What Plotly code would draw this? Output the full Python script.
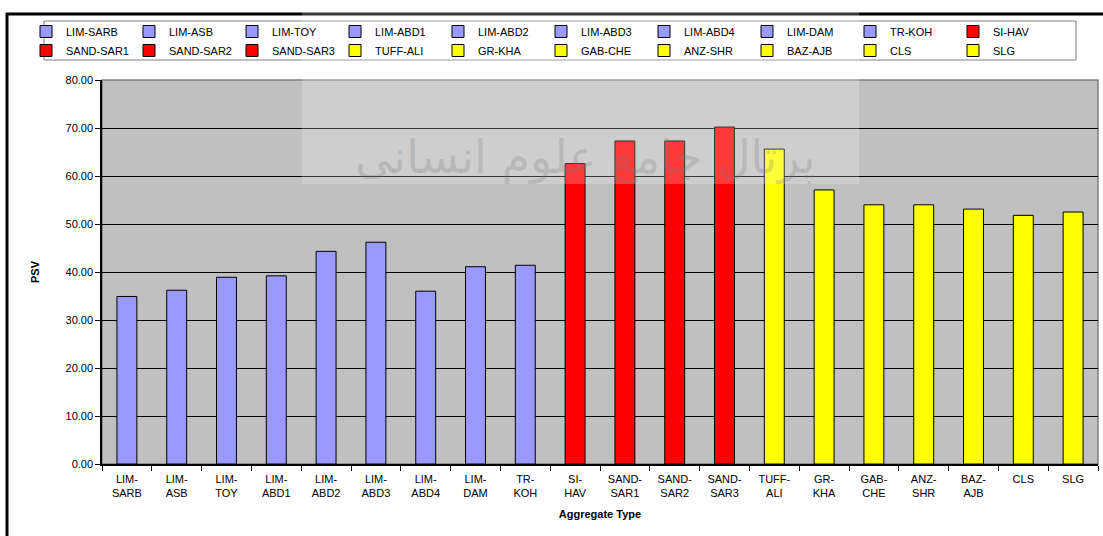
import plotly.graph_objects as go

categories = ["LIM-SARB", "LIM-ASB", "LIM-TOY", "LIM-ABD1", "LIM-ABD2", "LIM-ABD3",
              "LIM-ABD4", "LIM-DAM", "TR-KOH", "SI-HAV", "SAND-SAR1", "SAND-SAR2",
              "SAND-SAR3", "TUFF-ALI", "GR-KHA", "GAB-CHE", "ANZ-SHR", "BAZ-AJB", "CLS", "SLG"]
psv = [34.9, 36.2, 38.9, 39.2, 44.3, 46.2, 36.0, 41.1, 41.4, 62.6, 67.3, 67.3,
       70.2, 65.6, 57.1, 54.0, 54.0, 53.1, 51.8, 52.5]
groups = ["LIM"] * 9 + ["SAND"] * 4 + ["OTHER"] * 7
group_colors = {"LIM": "#9999FF", "SAND": "#FF0000", "OTHER": "#FFFF00"}
tick_text = ["LIM-<br>SARB", "LIM-<br>ASB", "LIM-<br>TOY", "LIM-<br>ABD1", "LIM-<br>ABD2",
             "LIM-<br>ABD3", "LIM-<br>ABD4", "LIM-<br>DAM", "TR-<br>KOH", "SI-<br>HAV",
             "SAND-<br>SAR1", "SAND-<br>SAR2", "SAND-<br>SAR3", "TUFF-<br>ALI", "GR-<br>KHA",
             "GAB-<br>CHE", "ANZ-<br>SHR", "BAZ-<br>AJB", "CLS", "SLG"]
y_ticks = [0, 10, 20, 30, 40, 50, 60, 70, 80]

FONT = "Arial, Liberation Sans, sans-serif"
W, H = 1103, 536
L, R, T, B = 102, 5, 80, 72
pw, ph = W - L - R, H - T - B

def px_x(p):
    return (p - L) / pw

def px_y(p):
    return (H - B - p) / ph

fig = go.Figure()
for cat, val, g in zip(categories, psv, groups):
    fig.add_trace(go.Bar(
        x=[cat], y=[val], name=cat, width=0.4,
        marker=dict(color=group_colors[g], line=dict(color="black", width=1)),
    ))

shapes = [
    # outer frame
    dict(type="line", xref="paper", yref="paper", x0=px_x(6), x1=px_x(1110),
         y0=px_y(14), y1=px_y(14), line=dict(color="black", width=3)),
    dict(type="line", xref="paper", yref="paper", x0=px_x(7), x1=px_x(7),
         y0=px_y(13), y1=px_y(540), line=dict(color="black", width=3)),
    # legend box
    dict(type="rect", xref="paper", yref="paper", x0=px_x(44), x1=px_x(1076),
         y0=px_y(60), y1=px_y(21), fillcolor="white",
         line=dict(color="#808080", width=1), layer="below"),
    # plot area border (top/right)
    dict(type="rect", xref="paper", yref="paper", x0=0, x1=1, y0=0, y1=1,
         line=dict(color="#808080", width=1.5), layer="below"),
    # watermark lightening
    dict(type="rect", xref="paper", yref="paper", x0=px_x(302), x1=px_x(859),
         y0=px_y(184), y1=px_y(0), fillcolor="rgba(255,255,255,0.22)",
         line=dict(width=0), layer="above"),
]

fig.update_layout(
    width=W, height=H,
    margin=dict(l=L, r=R, t=T, b=B, autoexpand=False),
    paper_bgcolor="white",
    plot_bgcolor="#C0C0C0",
    barmode="overlay",
    font=dict(family=FONT, size=11, color="black"),
    showlegend=True,
    legend=dict(
        orientation="h", x=px_x(26), y=px_y(17), xanchor="left", yanchor="top",
        bgcolor="rgba(0,0,0,0)", borderwidth=0,
        entrywidth=58, entrywidthmode="pixels",
        font=dict(family=FONT, size=11, color="black"),
        traceorder="normal", tracegroupgap=0,
    ),
    shapes=shapes,
    annotations=[
        dict(text="پرتال جامع علوم انسانی", xref="paper", yref="paper",
             x=px_x(585), y=px_y(128), showarrow=False,
             font=dict(family="DejaVu Sans", size=46, color="rgba(120,120,120,0.25)")),
    ],
)
fig.update_xaxes(
    categoryorder="array", categoryarray=categories,
    tickmode="array", tickvals=categories, ticktext=tick_text,
    ticks="outside", ticklen=5, tickcolor="black", tickson="boundaries",
    ticklabelstandoff=4,
    showline=True, linecolor="black", linewidth=1.5,
    showgrid=False,
    title=dict(text="<b>Aggregate Type</b>", font=dict(size=11), standoff=12),
    tickfont=dict(size=11),
)
fig.update_yaxes(
    range=[0, 80], tickvals=y_ticks, tickformat=".2f",
    ticks="outside", ticklen=5, tickcolor="black",
    showline=True, linecolor="black", linewidth=1.5,
    showgrid=True, gridcolor="black", gridwidth=1,
    zeroline=False,
    title=dict(text="<b>PSV</b>", font=dict(size=11), standoff=24),
    tickfont=dict(size=11),
)

fig.write_html("out.html", config={"displayModeBar": False},
               post_script="document.body.style.margin='0px';")
